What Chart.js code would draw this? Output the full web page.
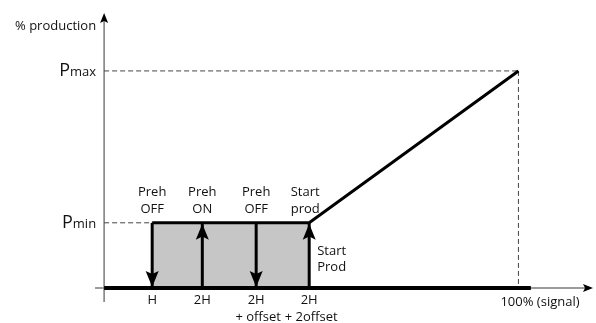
<!DOCTYPE html>
<html>
<head>
<meta charset="utf-8">
<script src="https://cdn.jsdelivr.net/npm/chart.js@4/dist/chart.umd.min.js"></script>
<style>body{margin:0;background:#fff}</style>
</head>
<body>
<canvas id="chart" width="596" height="323"></canvas>
<script>
// x in signal units (100 = full signal), y in % production
const xTicks = [11.6, 23.7, 36.7, 49.5, 100];
const xTickLabels = [['H'], ['2H'], ['2H', '+ offset'], ['2H', '+ 2offset'], ['100% (signal)']];
const pMin = 30;
const pMax = 100;
const eventX = [11.6, 23.7, 36.7, 49.5];
const eventDir = ['down', 'up', 'down', 'up'];
const eventLabels = [['Preh', 'OFF'], ['Preh', 'ON'], ['Preh', 'OFF'], ['Start', 'prod']];
const startLabel = ['Start', 'Prod'];
const signalMax = 100;
const xMin = -2.2, xMax = 118, yMin = -6.5, yMax = 126.7;

const seg = (pts, extra) => Object.assign({
  data: pts.map(p => ({x: p[0], y: p[1]})),
  showLine: true, pointRadius: 0, borderColor: '#000', borderWidth: 3, fill: false
}, extra);

const dashed = {borderColor: '#444', borderWidth: 1, borderDash: [5, 3]};

const datasets = [];
// production curve (plateau at Pmin then ramp to Pmax)
datasets.push(seg([[eventX[0], pMin], [eventX[3], pMin], [signalMax, pMax]], {}));
// event arrows
eventX.forEach(x => datasets.push(seg([[x, 0], [x, pMin]], {})));
// thick baseline
datasets.push(seg([[0, 0], [103, 0]], {borderWidth: 4}));
// dashed guides
datasets.push(seg([[0, pMax], [signalMax, pMax]], dashed));
datasets.push(seg([[signalMax, pMax], [signalMax, 0]], dashed));
datasets.push(seg([[0, pMin], [eventX[0], pMin]], dashed));
// axes
datasets.push(seg([[0, yMin], [0, yMax - 2]], {borderColor: '#7a7a7a', borderWidth: 1.5}));
datasets.push(seg([[xMin, 0], [xMax - 1, 0]], {borderColor: '#7a7a7a', borderWidth: 1.5}));
// grey band under the plateau
datasets.push(seg([[eventX[0], pMin], [eventX[3], pMin]], {borderWidth: 0, fill: 'origin', backgroundColor: '#c6c6c6'}));

function arrowHead(ctx, x, y, dir, len, w) {
  const s = dir === 'down' ? -1 : 1; // direction of back from tip
  ctx.beginPath();
  ctx.moveTo(x, y);
  ctx.lineTo(x - w / 2, y + s * len);
  ctx.lineTo(x, y + s * len * 0.8);
  ctx.lineTo(x + w / 2, y + s * len);
  ctx.closePath();
  ctx.fill();
}
function arrowRight(ctx, x, y, len, w) {
  ctx.beginPath();
  ctx.moveTo(x, y);
  ctx.lineTo(x - len, y - w / 2);
  ctx.lineTo(x - len * 0.8, y);
  ctx.lineTo(x - len, y + w / 2);
  ctx.closePath();
  ctx.fill();
}

const overlay = {
  id: 'overlay',
  afterDatasetsDraw(chart) {
    const ctx = chart.ctx;
    const xs = chart.scales.x, ys = chart.scales.y;
    const px = v => xs.getPixelForValue(v), py = v => ys.getPixelForValue(v);
    ctx.save();
    ctx.fillStyle = '#000';
    // event arrowheads
    eventX.forEach((x, i) => {
      const tip = eventDir[i] === 'down' ? py(0) - 1 : py(pMin) + 1;
      arrowHead(ctx, px(x), tip, eventDir[i], 16, 13);
    });
    // axis arrowheads
    arrowHead(ctx, px(0), py(yMax), 'up', 10, 8);
    arrowRight(ctx, px(xMax), py(0), 10, 8);

    ctx.fillStyle = '#111';
    ctx.font = '13px "Open Sans"';
    ctx.textBaseline = 'middle';
    ctx.textAlign = 'center';
    // labels above the events
    eventLabels.forEach((l, i) => {
      const cx = px(eventX[i]) - (i === 3 ? 4 : 0);
      l.forEach((t, j) => ctx.fillText(t, cx, py(pMin) - 31 + j * 17));
    });
    // x tick labels
    xTickLabels.forEach((l, i) => {
      if (i === xTickLabels.length - 1) {
        ctx.textAlign = 'left';
        ctx.fillText(l[0], px(xTicks[i]) - 18, py(0) + 14);
        ctx.textAlign = 'center';
        return;
      }
      l.forEach((t, j) => ctx.fillText(t, px(xTicks[i]) + (j ? 2 : 0), py(0) + 12 + j * 17));
    });
    // start prod side label
    ctx.textAlign = 'left';
    startLabel.forEach((t, j) => ctx.fillText(t, px(eventX[3]) + 8, py(0) - 37 + j * 16));
    // y axis labels
    ctx.textAlign = 'right';
    const rx = px(0) - 8;
    ctx.fillText('% production', rx, 26);
    ctx.textBaseline = 'alphabetic';
    [['max', pMax], ['min', pMin]].forEach(([sub, v]) => {
      ctx.font = '13px "Open Sans"';
      const w = ctx.measureText(sub).width;
      ctx.fillText(sub, rx, py(v) + 5);
      ctx.font = '18px "Open Sans"';
      ctx.fillText('P', rx - w, py(v) + 5);
    });
    ctx.restore();
  }
};

new Chart(document.getElementById('chart').getContext('2d'), {
  type: 'scatter',
  data: {datasets},
  options: {
    responsive: false,
    animation: false,
    layout: {padding: {left: 95, right: 3, top: 13, bottom: 21}},
    plugins: {legend: {display: false}, tooltip: {enabled: false}},
    scales: {
      x: {type: 'linear', min: xMin, max: xMax, display: false},
      y: {type: 'linear', min: yMin, max: yMax, display: false}
    }
  },
  plugins: [overlay]
});
</script>
</body>
</html>
